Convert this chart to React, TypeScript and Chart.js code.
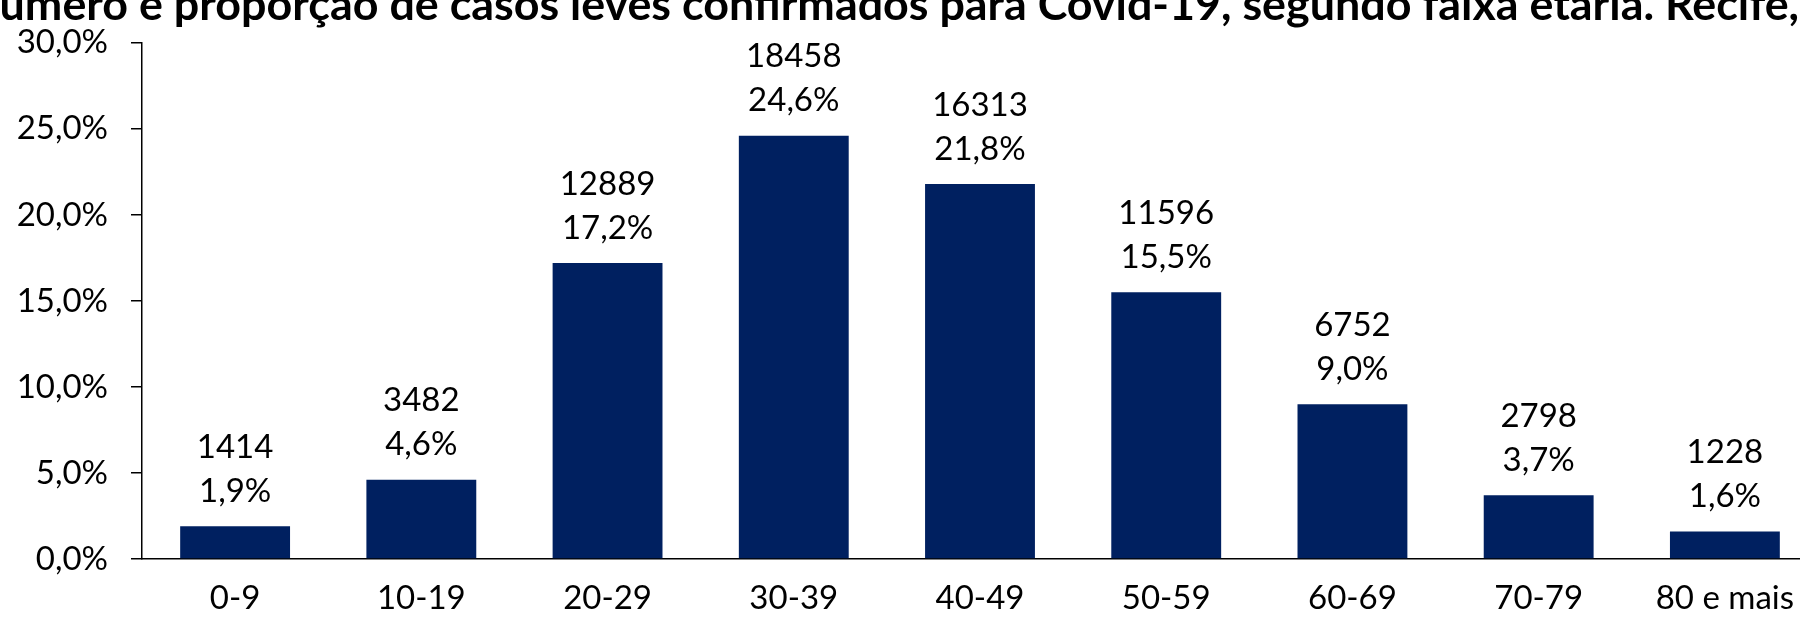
import React, { useEffect, useRef } from "react";
import { Chart, registerables } from "chart.js";

Chart.register(...registerables);

const categories = ["0-9", "10-19", "20-29", "30-39", "40-49", "50-59", "60-69", "70-79", "80 e mais"];
const percentages = [1.9, 4.6, 17.2, 24.6, 21.8, 15.5, 9.0, 3.7, 1.6];
const counts = [1414, 3482, 12889, 18458, 16313, 11596, 6752, 2798, 1228];
const yTickValues = [0, 5, 10, 15, 20, 25, 30];
const titleText =
  "Número e proporção de casos leves confirmados para Covid-19, segundo faixa etária. Recife, 2020";
const titleVisible =
  "úmero e proporção de casos leves confirmados para Covid-19, segundo faixa etária. Recife,";

const FONT = "Lato, 'Open Sans', sans-serif";
const fmtPct = (v: number) => v.toFixed(1).replace(".", ",") + "%";

const titlePlugin = {
  id: "cutTitle",
  afterDraw(chart: any) {
    const ctx = chart.ctx;
    ctx.save();
    ctx.font = `bold 100px ${FONT}`;
    const w = ctx.measureText(titleVisible).width;
    const size = (100 * 1800) / w;
    ctx.font = `bold ${size}px ${FONT}`;
    const nW = ctx.measureText("N").width;
    ctx.fillStyle = "#000";
    ctx.textAlign = "left";
    ctx.textBaseline = "alphabetic";
    ctx.fillText(titleText, -nW, 20);
    ctx.restore();
  },
};

const labelPlugin = {
  id: "barLabels",
  afterDatasetsDraw(chart: any) {
    const ctx = chart.ctx;
    const meta = chart.getDatasetMeta(0);
    ctx.save();
    ctx.font = `33px ${FONT}`;
    ctx.fillStyle = "#000";
    ctx.textAlign = "center";
    ctx.textBaseline = "middle";
    meta.data.forEach((bar: any, i: number) => {
      const { x, y } = bar.getProps(["x", "y"], true);
      ctx.fillText(fmtPct(percentages[i]), x, y - 35);
      ctx.fillText(String(counts[i]), x, y - 79);
    });
    ctx.restore();
  },
};

export default function App() {
  const ref = useRef<HTMLCanvasElement | null>(null);

  useEffect(() => {
    if (!ref.current) return;
    const chart = new Chart(ref.current, {
      type: "bar",
      data: {
        labels: categories,
        datasets: [
          {
            data: percentages,
            backgroundColor: "#002060",
            borderWidth: 0,
            categoryPercentage: 1,
            barPercentage: 0.59,
          },
        ],
      },
      options: {
        animation: false,
        responsive: true,
        maintainAspectRatio: false,
        layout: { padding: { top: 37, right: 12, bottom: 0, left: 0 } },
        plugins: {
          legend: { display: false },
          title: { display: false },
          tooltip: { enabled: false },
        },
        scales: {
          x: {
            grid: { display: false, drawTicks: false },
            border: { display: true, color: "#000", width: 1.5 },
            ticks: {
              color: "#000",
              font: { family: FONT, size: 33 },
              padding: 20,
              maxRotation: 0,
              autoSkip: false,
            },
            afterFit(scale: any) {
              scale.height = 63;
            },
          },
          y: {
            min: 0,
            max: 30,
            afterBuildTicks(scale: any) {
              scale.ticks = yTickValues.map((v) => ({ value: v }));
            },
            grid: {
              display: true,
              drawOnChartArea: false,
              drawTicks: true,
              tickLength: 11,
              color: "#000",
              lineWidth: 1.5,
            },
            border: { display: true, color: "#000", width: 1.5 },
            ticks: {
              color: "#000",
              font: { family: FONT, size: 33 },
              padding: 23,
              callback: (v: any) => fmtPct(Number(v)),
            },
            afterFit(scale: any) {
              scale.width = 142;
            },
          },
        },
      },
      plugins: [titlePlugin, labelPlugin],
    });
    return () => chart.destroy();
  }, []);

  return (
    <div
      style={{
        position: "absolute",
        left: 0,
        top: 0,
        width: 1800,
        height: 622,
        overflow: "hidden",
        background: "#fff",
      }}
    >
      <div style={{ position: "relative", width: 1830, height: 622 }}>
        <canvas ref={ref} />
      </div>
    </div>
  );
}
